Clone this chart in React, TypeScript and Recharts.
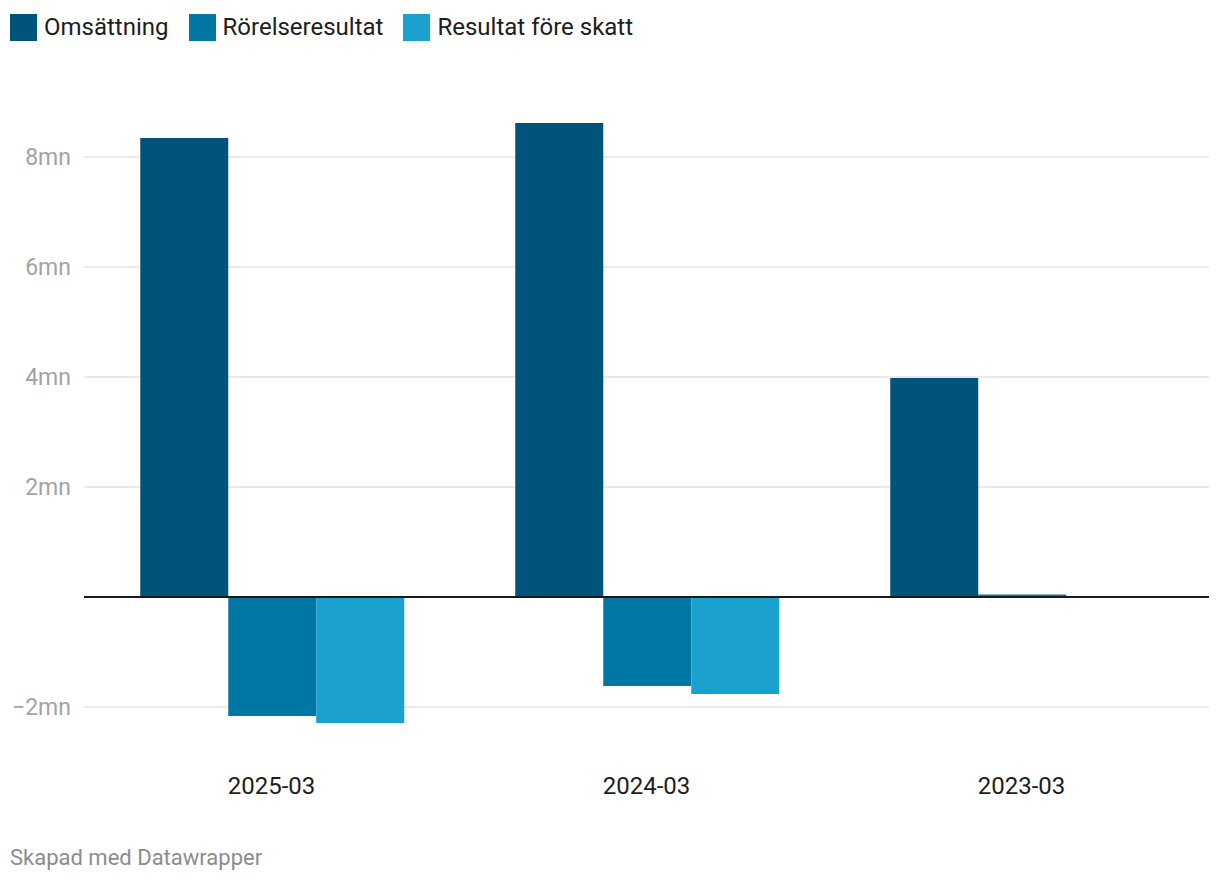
import { BarChart, Bar, XAxis, YAxis, CartesianGrid, ReferenceLine } from 'recharts';

const PERIODS = ['2025-03', '2024-03', '2023-03'];
const OMSATTNING = [8345000, 8620000, 3980000];
const RORELSERESULTAT = [-2165000, -1620000, 45000];
const RESULTAT_FORE_SKATT = [-2290000, -1765000, null];
const Y_TICKS = [-2000000, 2000000, 4000000, 6000000, 8000000];

const SERIES = [
  { key: 'oms', name: 'Omsättning', color: '#005379' },
  { key: 'ror', name: 'Rörelseresultat', color: '#0177a3' },
  { key: 'rfs', name: 'Resultat före skatt', color: '#1aa1ce' },
];

const data = PERIODS.map((p, i) => ({
  period: p,
  oms: OMSATTNING[i],
  ror: RORELSERESULTAT[i],
  rfs: RESULTAT_FORE_SKATT[i],
}));

const FONT = 'Roboto, sans-serif';

function fmt(v: number) {
  const m = Math.abs(v) / 1e6;
  return (v < 0 ? '\u2212' : '') + m + 'mn';
}

export default function App() {
  return (
    <div style={{ position: 'absolute', left: 0, top: 0, width: 1220, height: 882, background: '#fff', fontFamily: FONT }}>
      <div style={{ position: 'absolute', left: 10, top: 14, display: 'flex', alignItems: 'center', fontSize: 24, color: '#1d1d1d' }}>
        {SERIES.map(s => (
          <div key={s.key} style={{ display: 'flex', alignItems: 'center', marginRight: 20 }}>
            <span style={{ width: 27, height: 27, background: s.color, display: 'inline-block', marginRight: 7 }} />
            <span style={{ lineHeight: '27px' }}>{s.name}</span>
          </div>
        ))}
      </div>
      <div style={{ position: 'absolute', left: 1, top: 0 }}>
        <BarChart
          width={1220}
          height={810}
          data={data}
          margin={{ top: 102, right: 12, left: 0, bottom: 0 }}
          barCategoryGap="15%"
          barGap={0}
        >
          <CartesianGrid vertical={false} stroke="#e2e2e2" strokeWidth={1.5} syncWithTicks />
          <XAxis
            dataKey="period"
            axisLine={false}
            tickLine={false}
            height={48}
            tickMargin={9}
            tick={{ fontSize: 24, fill: '#1d1d1d', fontFamily: FONT }}
          />
          <YAxis
            width={83}
            domain={[-3000000, 9000000]}
            ticks={Y_TICKS}
            axisLine={false}
            tickLine={false}
            tickMargin={7}
            tickFormatter={fmt}
            tick={{ fontSize: 23, fill: '#a3a3a3', fontFamily: FONT }}
          />
          {SERIES.map(s => (
            <Bar key={s.key} dataKey={s.key} name={s.name} fill={s.color} isAnimationActive={false} />
          ))}
          <ReferenceLine y={0} stroke="#1a1a1a" strokeWidth={2} />
        </BarChart>
      </div>
      <div style={{ position: 'absolute', left: 10, top: 845, fontSize: 22, color: '#8c8c8c' }}>
        Skapad med Datawrapper
      </div>
    </div>
  );
}
